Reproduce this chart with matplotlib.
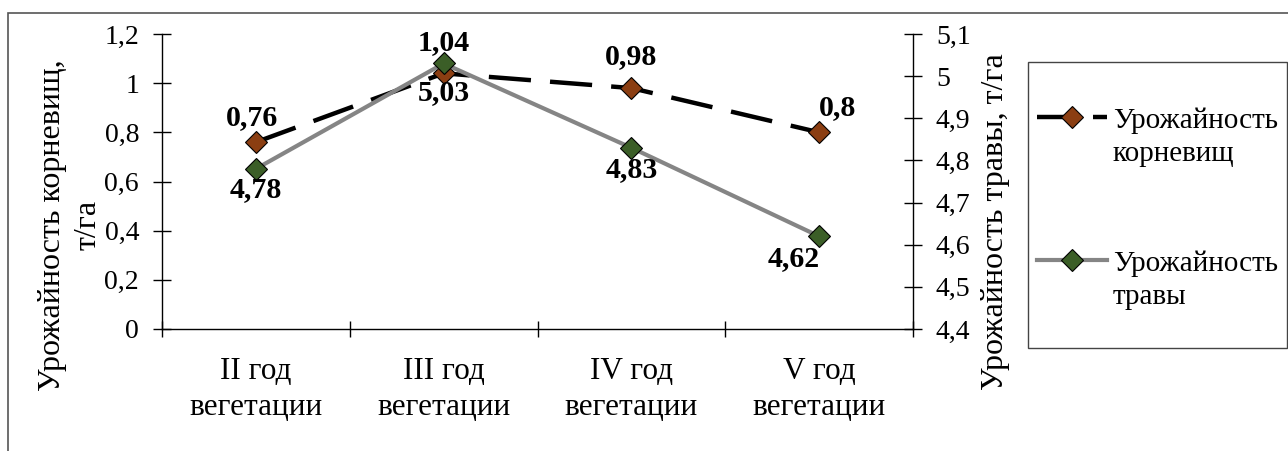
import matplotlib
matplotlib.use('Agg')
import matplotlib.pyplot as plt
from matplotlib.lines import Line2D
from matplotlib.patches import Rectangle

categories = ['II год\nвегетации', 'III год\nвегетации', 'IV год\nвегетации', 'V год\nвегетации']
roots = [0.76, 1.04, 0.98, 0.8]
grass = [4.78, 5.03, 4.83, 4.62]
root_labels = ['0,76', '1,04', '0,98', '0,8']
grass_labels = ['4,78', '5,03', '4,83', '4,62']
left_ticks = [0, 0.2, 0.4, 0.6, 0.8, 1.0, 1.2]
left_ticklabels = ['0', '0,2', '0,4', '0,6', '0,8', '1', '1,2']
right_ticks = [4.4, 4.5, 4.6, 4.7, 4.8, 4.9, 5.0, 5.1]
right_ticklabels = ['4,4', '4,5', '4,6', '4,7', '4,8', '4,9', '5', '5,1']

plt.rcParams['font.family'] = ['Liberation Serif', 'DejaVu Serif']

W, H = 1288, 451
fig = plt.figure(figsize=(W / 100, H / 100), dpi=100)
ax = fig.add_axes([162 / W, 1 - 329 / H, (913 - 162) / W, (329 - 34) / H])
ax2 = ax.twinx()

root_col = '#8B3E12'
grass_col = '#3B5E27'
dash = (9.5, 4.3)

x = list(range(len(categories)))
ax.plot(x, roots, color='black', lw=3.2, dashes=dash, marker='D', ms=11,
        mfc=root_col, mec='black', mew=0.8, zorder=3)
ax2.plot(x, grass, color='#858585', lw=3.0, marker='D', ms=11,
         mfc=grass_col, mec='black', mew=0.8, zorder=3)

# data labels
root_off = [(-3, 18), (0, 22), (0, 23), (13, 18)]
for i, (v, t) in enumerate(zip(roots, root_labels)):
    ax.annotate(t, (x[i], v), xytext=root_off[i], textcoords='offset points',
                ha='center', va='center', fontsize=21.5, fontweight='bold')
grass_off = [(0, -15), (0, -21), (0, -16), (-18, -16)]
for i, (v, t) in enumerate(zip(grass, grass_labels)):
    ax2.annotate(t, (x[i], v), xytext=grass_off[i], textcoords='offset points',
                 ha='center', va='center', fontsize=21.5, fontweight='bold')

ax.set_xlim(-0.5, 3.5)
ax.set_ylim(0, 1.2)
ax2.set_ylim(4.4, 5.1)
ax.set_xticks(x)
ax.set_xticklabels(categories, fontsize=22.5, linespacing=1.35)
ax.set_xticks([-0.5, 0.5, 1.5, 2.5, 3.5], minor=True)
ax.tick_params(axis='x', which='major', length=0, pad=20)
ax.tick_params(axis='x', which='minor', direction='inout', length=12, width=1)
ax.set_yticks(left_ticks)
ax.set_yticklabels(left_ticklabels, fontsize=20)
ax.tick_params(axis='y', direction='inout', length=13, width=1, pad=10)
ax2.set_yticks(right_ticks)
ax2.set_yticklabels(right_ticklabels, fontsize=20)
ax2.tick_params(axis='y', direction='inout', length=13, width=1, pad=10)

for a in (ax, ax2):
    a.spines['top'].set_visible(False)
    for s in a.spines.values():
        s.set_linewidth(1)
ax.spines['right'].set_visible(False)
ax2.spines['left'].set_visible(False)
ax2.spines['bottom'].set_visible(False)

fig.text(70 / W, 1 - 225 / H, 'Урожайность корневищ,\nт/га', rotation=90,
         ha='center', va='center', fontsize=23, multialignment='center', linespacing=1.3)
fig.text(995 / W, 1 - 222 / H, 'Урожайность травы, т/га', rotation=90,
         ha='center', va='center', fontsize=23)

# chart frame
fig.add_artist(Rectangle((8 / W, -0.1), 1.2, 1 - 13 / H + 0.1, transform=fig.transFigure,
                         fill=False, ec='#555555', lw=1.2))

# legend
fig.add_artist(Rectangle((1028 / W, 1 - 348 / H), (1287 - 1028) / W, (348 - 62) / H,
                         transform=fig.transFigure, fill=False, ec='#444444', lw=1))
fig.add_artist(Line2D([1037 / W, 1107 / W], [1 - 117 / H] * 2, transform=fig.transFigure,
                      color='black', lw=3.2, dashes=(9.4, 3.2)))
fig.add_artist(Line2D([1072 / W], [1 - 117 / H], transform=fig.transFigure, marker='D',
                      ms=11, mfc=root_col, mec='black', mew=0.8))
fig.text(1113 / W, 1 - 137 / H, 'Урожайность\nкорневищ', ha='left', va='center',
         fontsize=21, linespacing=1.35)
fig.add_artist(Line2D([1037 / W, 1107 / W], [1 - 260 / H] * 2, transform=fig.transFigure,
                      color='#858585', lw=3.0))
fig.add_artist(Line2D([1072 / W], [1 - 260 / H], transform=fig.transFigure, marker='D',
                      ms=11, mfc=grass_col, mec='black', mew=0.8))
fig.text(1113 / W, 1 - 280 / H, 'Урожайность\nтравы', ha='left', va='center',
         fontsize=21, linespacing=1.35)

fig.savefig('out.png', dpi=100)
